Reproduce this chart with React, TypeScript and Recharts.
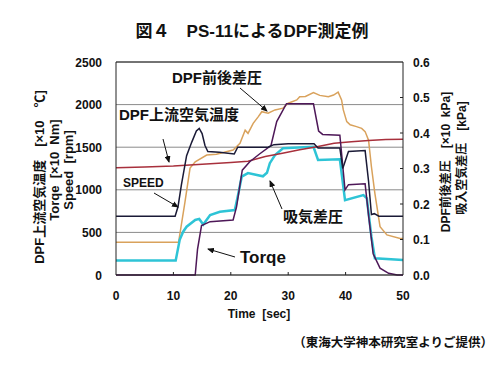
import { LineChart, Line, XAxis, YAxis, CartesianGrid, ReferenceLine } from 'recharts';

const timeTicks = [0, 10, 20, 30, 40, 50];
const leftTicks = [0, 500, 1000, 1500, 2000, 2500];
const rightTicks = [0, 0.1, 0.2, 0.3, 0.4, 0.5, 0.6];

// [sec, rpm]
const speed: [number, number][] = [
  [0, 690], [10.3, 690], [10.8, 800], [11.4, 1060], [12.3, 1400], [13.2, 1560], [14.0, 1690],
  [14.5, 1720], [15.0, 1660], [15.5, 1520], [16, 1450], [18, 1440], [20.6, 1420], [21.2, 1500],
  [26.5, 1500], [27.5, 1530], [30, 1540], [34.5, 1540], [35.2, 1490], [39, 1490], [39.5, 1250],
  [40, 1350], [40.5, 1450], [43.4, 1460], [44, 1100], [44.5, 710], [45, 720], [45.8, 690], [50, 690],
];

// [sec, x10 Nm]
const torque: [number, number][] = [
  [0, 0], [13.8, 0], [14.2, 300], [14.9, 580], [16.4, 626], [20.4, 646], [21, 800], [22, 1230],
  [23.3, 1330], [25, 1420], [27, 1520], [28, 1800], [29.7, 2010], [34.4, 2010], [35.3, 1690],
  [36, 1650], [39, 1640], [39.9, 1000], [40.5, 1060], [43.4, 1070], [44, 700], [44.8, 250],
  [46, 80], [47.5, 20], [49, 0], [50, 0],
];

// [sec, x10 ℃]
const airTemp: [number, number][] = [
  [0, 1260], [5, 1268], [10, 1280], [15, 1300], [20, 1320], [23, 1335], [26, 1390], [29, 1430],
  [32, 1470], [35, 1505], [38, 1545], [41, 1565], [44, 1580], [47, 1590], [50, 1592],
];

// [sec, x10 kPa] right axis
const dpfDiff: [number, number][] = [
  [0, 0.092], [10.9, 0.092], [12.0, 0.204], [12.9, 0.301], [13.8, 0.319], [15.8, 0.338],
  [17.5, 0.34], [20.4, 0.352], [21.6, 0.371], [22.5, 0.408], [23.0, 0.399], [23.9, 0.427],
  [24.8, 0.446], [25.4, 0.46], [26.5, 0.456], [27.7, 0.465], [29.1, 0.47], [30, 0.484],
  [31.5, 0.493], [32, 0.502], [33, 0.503], [34.4, 0.514], [35.5, 0.506], [37, 0.502],
  [37.9, 0.507], [38.7, 0.515], [39.3, 0.493], [39.6, 0.465], [40.2, 0.432], [40.8, 0.423],
  [41.9, 0.418], [42.8, 0.413], [43.4, 0.404], [44.0, 0.38], [44.5, 0.305], [45.1, 0.23],
  [46.0, 0.136], [47.2, 0.113], [49.5, 0.103], [50, 0.103],
];

// [sec, kPa] right axis
const intakeDiff: [number, number][] = [
  [0, 0.041], [10.4, 0.041], [11.1, 0.099], [11.7, 0.122], [12.3, 0.136], [13.8, 0.155],
  [14.5, 0.158], [15.2, 0.142], [16.4, 0.169], [18.1, 0.178], [20.7, 0.183], [21.3, 0.228],
  [21.9, 0.277], [23, 0.287], [25.6, 0.278], [26.3, 0.288], [26.8, 0.315], [27.7, 0.338],
  [29.1, 0.357], [34.4, 0.361], [35.2, 0.324], [39, 0.326], [39.9, 0.211], [43.1, 0.225],
  [43.7, 0.216], [44.5, 0.108], [45.1, 0.047], [50, 0.042],
];

const rows = (pts: [number, number][]) => pts.map(([t, v]) => ({ t, v }));

const FONT = '"Liberation Sans", Arial, "Noto Sans CJK JP", sans-serif';

const LeftTick = ({ x, y, payload }: any) => (
  <text x={x - 14} y={y} dy={4.5} textAnchor="end" fontSize={12} fontWeight="bold" fontFamily={FONT} fill="#111">
    {payload.value}
  </text>
);

const RightTick = ({ x, y, payload }: any) => (
  <g>
    {payload.value > 0 && payload.value < 0.6 && <line x1={x - 3} x2={x} y1={y} y2={y} stroke="#222" />}
    <text x={x + 10} y={y} dy={4.5} textAnchor="start" fontSize={12} fontWeight="bold" fontFamily={FONT} fill="#111">
      {payload.value.toFixed(1)}
    </text>
  </g>
);

const TimeTick = ({ x, y, payload }: any) => (
  <g>
    {payload.value > 0 && payload.value < 50 && <line x1={x} x2={x} y1={y - 3} y2={y} stroke="#222" />}
    <text x={x} y={y + 25} textAnchor="middle" fontSize={12} fontWeight="bold" fontFamily={FONT} fill="#111">
      {payload.value}
    </text>
  </g>
);

const Arrow = ({ x1, y1, x2, y2 }: { x1: number; y1: number; x2: number; y2: number }) => (
  <line x1={x1} y1={y1} x2={x2} y2={y2} stroke="#111" strokeWidth={1} markerEnd="url(#arrowHead)" />
);

export default function App() {
  const bold = { fontFamily: FONT, fontWeight: 'bold' as const, fill: '#111', style: { whiteSpace: 'pre' as const } };
  return (
    <div style={{ position: 'absolute', left: 0, top: 0, width: 500, height: 367, background: '#fff' }}>
      <LineChart width={500} height={367} margin={{ top: 62, right: 37, bottom: 62, left: 56 }}>
        <CartesianGrid horizontal vertical={false} stroke="#8a8a8a" yAxisId="left" />
        <XAxis
          dataKey="t"
          type="number"
          domain={[0, 50]}
          ticks={timeTicks}
          height={30}
          tickSize={0}
          tickMargin={0}
          tickLine={false}
          axisLine={{ stroke: '#222' }}
          tick={<TimeTick />}
          allowDuplicatedCategory={false}
        />
        <YAxis
          yAxisId="left"
          domain={[0, 2500]}
          ticks={leftTicks}
          width={60}
          tickSize={0}
          tickMargin={0}
          tickLine={false}
          axisLine={{ stroke: '#222' }}
          tick={<LeftTick />}
        />
        <YAxis
          yAxisId="right"
          orientation="right"
          domain={[0, 0.6]}
          ticks={rightTicks}
          width={60}
          tickSize={0}
          tickMargin={0}
          tickLine={false}
          axisLine={{ stroke: '#222' }}
          tick={<RightTick />}
        />
        <ReferenceLine yAxisId="left" y={2500} stroke="#222" />
        <Line yAxisId="right" data={rows(dpfDiff)} dataKey="v" type="linear" stroke="#d9a25c" strokeWidth={1.5} dot={false} isAnimationActive={false} />
        <Line yAxisId="right" data={rows(intakeDiff)} dataKey="v" type="linear" stroke="#2ec4d6" strokeWidth={2.5} dot={false} isAnimationActive={false} />
        <Line yAxisId="left" data={rows(airTemp)} dataKey="v" type="linear" stroke="#a8303c" strokeWidth={1.5} dot={false} isAnimationActive={false} />
        <Line yAxisId="left" data={rows(torque)} dataKey="v" type="linear" stroke="#4e1858" strokeWidth={1.5} dot={false} isAnimationActive={false} />
        <Line yAxisId="left" data={rows(speed)} dataKey="v" type="linear" stroke="#1a1a36" strokeWidth={1.5} dot={false} isAnimationActive={false} />
      </LineChart>

      <svg width={500} height={367} style={{ position: 'absolute', left: 0, top: 0, pointerEvents: 'none' }}>
        <defs>
          <marker id="arrowHead" markerWidth="7" markerHeight="6" refX="6" refY="3" orient="auto" markerUnits="userSpaceOnUse">
            <path d="M0,0 L7,3 L0,6 z" fill="#111" />
          </marker>
        </defs>
        <text x={252} y={37} textAnchor="middle" fontSize={17} {...bold}>図４　PS-11によるDPF測定例</text>

        <text transform="translate(44,177) rotate(-90)" textAnchor="middle" fontSize={13} {...bold}>DPF上流空気温度　[×10　℃]</text>
        <text transform="translate(59,170) rotate(-90)" textAnchor="middle" fontSize={13} {...bold}>Torqe  [×10  Nm]</text>
        <text transform="translate(73,170) rotate(-90)" textAnchor="middle" fontSize={13} {...bold}>Speed  [rpm]</text>

        <text transform="translate(450,162) rotate(-90)" textAnchor="middle" fontSize={12} {...bold}>DPF前後差圧　[×10  kPa]</text>
        <text transform="translate(466,158) rotate(-90)" textAnchor="middle" fontSize={12} {...bold}>吸入空気差圧　[kPa]</text>

        <text x={259} y={318} textAnchor="middle" fontSize={12} {...bold}>Time  [sec]</text>
        <text x={493} y={347} textAnchor="end" fontSize={12.5} {...bold}>（東海大学神本研究室よりご提供）</text>

        <text x={172} y={83} fontSize={15} {...bold}>DPF前後差圧</text>
        <Arrow x1={240} y1={88} x2={267} y2={111} />
        <text x={119} y={120} fontSize={15} {...bold}>DPF上流空気温度</text>
        <Arrow x1={163} y1={139} x2={169} y2={162} />
        <text x={123} y={187} fontSize={12} {...bold}>SPEED</text>
        <Arrow x1={154} y1={193} x2={178} y2={207} />
        <text x={283} y={222} fontSize={15} {...bold}>吸気差圧</text>
        <Arrow x1={282} y1={209} x2={270} y2={181} />
        <text x={240} y={263} fontSize={17} {...bold}>Torqe</text>
        <Arrow x1={235} y1={257} x2={208} y2={249} />
      </svg>
    </div>
  );
}
